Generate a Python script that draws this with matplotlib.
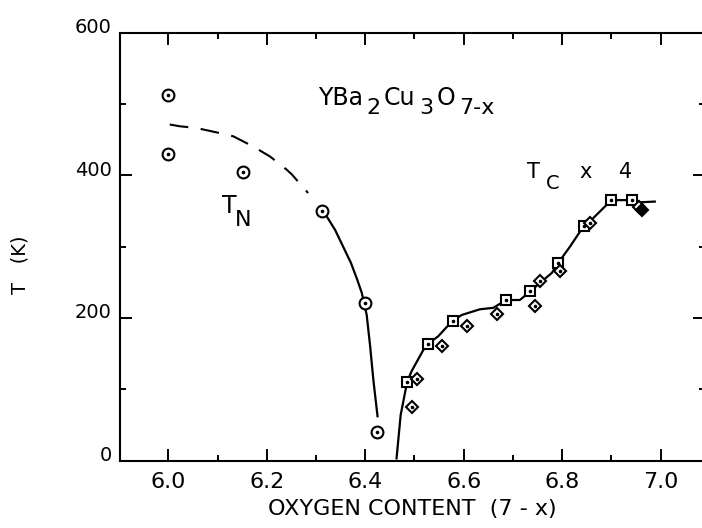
import matplotlib
matplotlib.use("Agg")
import matplotlib.pyplot as plt
from matplotlib.ticker import MultipleLocator, FormatStrFormatter
from matplotlib.transforms import ScaledTranslation

# T_N data (circles) and guide curves
tn_x = [6.00, 6.00, 6.151, 6.312, 6.400, 6.423]
tn_y = [512, 430, 404, 350, 221, 40]

tn_dash_x = [6.003, 6.024, 6.058, 6.098, 6.132, 6.173, 6.207, 6.240, 6.251, 6.284]
tn_dash_y = [471, 468.5, 466, 460, 454.5, 440, 426, 408, 401, 375]

tn_solid_x = [6.322, 6.339, 6.355, 6.371, 6.384, 6.393, 6.403, 6.410, 6.4165, 6.425]
tn_solid_y = [342, 323, 300, 277, 253, 235, 204, 160, 113, 62]

# Tc x 4 data: squares, diamonds, and guide curve
sq_x = [6.485, 6.528, 6.579, 6.686, 6.735, 6.792, 6.844, 6.900, 6.941]
sq_y = [110, 164, 196, 225, 237, 277, 329, 365, 365]

dm_x = [6.494, 6.506, 6.555, 6.607, 6.667, 6.745, 6.755, 6.796, 6.857, 6.955]
dm_y = [75, 114, 160, 188, 206, 217, 251, 266, 333, 356]
dm_fill_x = [6.962]
dm_fill_y = [351]

tc_x = [6.4636, 6.472, 6.478, 6.485, 6.494, 6.518, 6.528, 6.548, 6.576, 6.596,
        6.633, 6.660, 6.686, 6.714, 6.735, 6.755, 6.779, 6.792, 6.816, 6.844,
        6.856, 6.894, 6.900, 6.941, 6.960, 6.988]
tc_y = [3, 64, 85, 110, 125, 155, 164, 174, 195, 204,
        212, 214, 225, 225, 237, 249, 263, 277, 300, 329,
        335, 361, 365, 365, 362, 363]

# formula pieces: (text, subscript?)
formula = [("YBa", False), ("2", True), ("Cu", False), ("3", True), ("O", False), ("7-x", True)]

fig = plt.figure(figsize=(7.02, 5.28), dpi=100)
ax = fig.add_axes([120 / 702, 67.5 / 528, 585 / 702, 428 / 528])

ax.plot(tn_dash_x, tn_dash_y, color="black", lw=1.5, dashes=(9, 6))
ax.plot(tn_solid_x, tn_solid_y, color="black", lw=1.6)
ax.plot(tc_x, tc_y, color="black", lw=1.6)

ax.plot(tn_x, tn_y, "o", ms=8.5, mfc="white", mec="black", mew=1.5)
ax.plot(sq_x, sq_y, "s", ms=6.5, mfc="white", mec="black", mew=1.5)
ax.plot(dm_x, dm_y, "D", ms=6.5, mfc="white", mec="black", mew=1.5)
ax.plot(dm_fill_x, dm_fill_y, "D", ms=6.5, mfc="black", mec="black", mew=1.5)
for xs, ys in [(tn_x, tn_y), (sq_x, sq_y), (dm_x, dm_y)]:
    ax.plot(xs, ys, "o", ms=1.6, color="black")

ax.set_xlim(5.902, 7.090)
ax.set_ylim(0, 600)
ax.xaxis.set_major_locator(MultipleLocator(0.2))
ax.xaxis.set_minor_locator(MultipleLocator(0.1))
ax.xaxis.set_major_formatter(FormatStrFormatter("%.1f"))
ax.yaxis.set_major_locator(MultipleLocator(200))
ax.yaxis.set_minor_locator(MultipleLocator(100))

ax.tick_params(which="both", direction="in", top=True, right=True, width=1.4, color="black")
ax.tick_params(which="major", length=8.5)
ax.tick_params(which="minor", length=4)
ax.tick_params(axis="x", labelsize=16, pad=8)
ax.tick_params(axis="y", labelsize=14, pad=6)
for sp in ax.spines.values():
    sp.set_linewidth(1.5)

for lab in ax.get_yticklabels():
    lab.set_transform(lab.get_transform() + ScaledTranslation(0, 5 / 72, fig.dpi_scale_trans))

ax.set_xlabel("OXYGEN CONTENT  (7 - x)", fontsize=16, labelpad=5)
fig.text(20 / 702, 1 - 265 / 528, "T   (K)", rotation=90, fontsize=14, ha="center", va="center")

# chemical formula with full-size, lowered subscripts
prev = ax.text(6.304, 492, formula[0][0], fontsize=17, va="bottom")
was_sub = False
for piece, is_sub in formula[1:]:
    dy = 0
    if is_sub and not was_sub:
        dy = -6
    elif was_sub and not is_sub:
        dy = 6
    prev = ax.annotate(piece, xy=(1, 0), xycoords=prev, xytext=(2.5, dy),
                       textcoords="offset points", va="bottom", ha="left",
                       fontsize=16 if is_sub else 17)
    was_sub = is_sub

ax.text(6.109, 347, "T", fontsize=17)
ax.text(6.1355, 329, "N", fontsize=16)
ax.text(6.728, 396, "T", fontsize=15)
ax.text(6.766, 380, "C", fontsize=14)
ax.text(6.836, 396, "x    4", fontsize=15)

fig.savefig("out.png", dpi=100)
